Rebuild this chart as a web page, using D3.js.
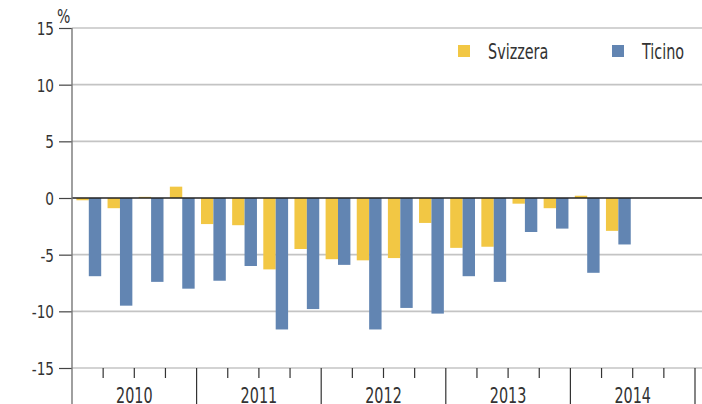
<!DOCTYPE html>
<html>
<head>
<meta charset="utf-8">
<script src="https://cdn.jsdelivr.net/npm/d3@7"></script>
<style>
  body { margin: 0; background: #fff; }
  svg { display: block; }
  text { font-family: "DejaVu Sans Condensed", "Liberation Sans Narrow", sans-serif; fill: #333; }
</style>
</head>
<body>
<svg width="702" height="404"></svg>
<script>
const years = ["2010", "2011", "2012", "2013", "2014"];
const quarters = ["Q1", "Q2", "Q3", "Q4"];
const series = ["Svizzera", "Ticino"];
const colors = ["#f2c744", "#6285b2"];
// quarterly values, % (null = not yet available)
const svizzera = [-0.2, -0.9, 0.1, 1.0, -2.3, -2.4, -6.3, -4.5, -5.4, -5.5, -5.3, -2.2, -4.4, -4.3, -0.5, -0.9, 0.2, -2.9, null, null];
const ticino = [-6.9, -9.5, -7.4, -8.0, -7.3, -6.0, -11.6, -9.8, -5.9, -11.6, -9.7, -10.2, -6.9, -7.4, -3.0, -2.7, -6.6, -4.1, null, null];
const yTicks = [-15, -10, -5, 0, 5, 10, 15];

let svg = d3.select("svg");
const area = { left: 72, right: 695, top: 28, bottom: 368, width: 702, height: 404 };

// condensed look: squeeze the text horizontally
function narrowText(sel, x, y, size, sx) {
  sel.attr("x", 0).attr("y", 0)
    .attr("transform", (d, i) => `translate(${typeof x === "function" ? x(d, i) : x}, ${typeof y === "function" ? y(d, i) : y}) scale(${sx}, 1)`)
    .style("font-size", size + "px");
}

let periods = [];
years.forEach(y => quarters.forEach(q => periods.push(y + q)));

let scaleX = d3.scaleBand().domain(periods).range([area.left, area.right]);
let scaleYear = d3.scaleBand().domain(years).range([area.left, area.right]);
let scaleInner = d3.scaleBand().domain(series).range([4.4, 29.2]);
let scaleY = d3.scaleLinear().domain([-15, 15]).range([area.bottom, area.top]);

// grid lines
svg.append("g")
  .selectAll("line")
  .data(yTicks.filter(d => d !== 0))
  .enter()
  .append("line")
  .attr("x1", area.left)
  .attr("x2", area.width)
  .attr("y1", d => scaleY(d))
  .attr("y2", d => scaleY(d))
  .style("stroke", "#c4c4c4")
  .style("stroke-width", 1.6);

// bars
let rows = [];
periods.forEach((p, i) => {
  if (svizzera[i] !== null) rows.push({ period: p, key: "Svizzera", value: svizzera[i] });
  if (ticino[i] !== null) rows.push({ period: p, key: "Ticino", value: ticino[i] });
});

svg.append("g")
  .selectAll("rect")
  .data(rows)
  .enter()
  .append("rect")
  .attr("x", d => scaleX(d.period) + scaleInner(d.key))
  .attr("width", scaleInner.bandwidth())
  .attr("y", d => scaleY(Math.max(0, d.value)))
  .attr("height", d => Math.abs(scaleY(d.value) - scaleY(0)))
  .style("fill", d => colors[series.indexOf(d.key)]);

// zero line
svg.append("line")
  .attr("x1", area.left).attr("x2", area.width)
  .attr("y1", scaleY(0)).attr("y2", scaleY(0))
  .style("stroke", "#222").style("stroke-width", 1.3);

// y axis
let axisY = d3.axisLeft(scaleY).tickValues(yTicks).tickSize(13).tickFormat(d => String(d));
let gy = svg.append("g")
  .attr("transform", `translate(${area.left}, 0)`)
  .call(axisY);
gy.select(".domain").remove();
gy.selectAll(".tick line").style("stroke", "#444").style("stroke-width", 1.2);
gy.selectAll(".tick text")
  .attr("dy", null)
  .style("fill", "#333")
  .style("font-family", "\"DejaVu Sans Condensed\", sans-serif")
  .call(narrowText, -18, 6.6, 18.5, 0.82);

svg.append("line")
  .attr("x1", area.left).attr("x2", area.left)
  .attr("y1", area.top).attr("y2", area.height)
  .style("stroke", "#777").style("stroke-width", 1.4);

svg.append("text")
  .text("%")
  .call(narrowText, 57, 23, 19.5, 0.8);

// x axis: quarter ticks and year dividers
svg.append("g")
  .selectAll("line")
  .data(periods.slice(1).filter(p => !p.endsWith("Q1")))
  .enter()
  .append("line")
  .attr("x1", d => scaleX(d)).attr("x2", d => scaleX(d))
  .attr("y1", area.bottom).attr("y2", area.bottom + 10)
  .style("stroke", "#333").style("stroke-width", 1.2);

svg.append("g")
  .selectAll("line")
  .data(years.slice(1).map(y => scaleYear(y)).concat([area.right]))
  .enter()
  .append("line")
  .attr("x1", d => d).attr("x2", d => d)
  .attr("y1", area.bottom).attr("y2", area.height)
  .style("stroke", "#333").style("stroke-width", 1.2);

svg.append("g")
  .selectAll("text")
  .data(years)
  .enter()
  .append("text")
  .attr("text-anchor", "middle")
  .text(d => d)
  .call(narrowText, d => scaleYear(d) + scaleYear.bandwidth() / 2, 402.5, 20.5, 0.78);

// legend
const legendX = [458, 612];
let lg = svg.append("g")
  .selectAll("g")
  .data(series)
  .enter()
  .append("g")
  .attr("transform", (d, i) => `translate(${legendX[i]}, 45)`);
lg.append("rect")
  .attr("width", 12).attr("height", 12)
  .style("fill", (d, i) => colors[i]);
lg.append("text")
  .text(d => d)
  .call(narrowText, 30, 14, 20.5, 0.78);
</script>
</body>
</html>
